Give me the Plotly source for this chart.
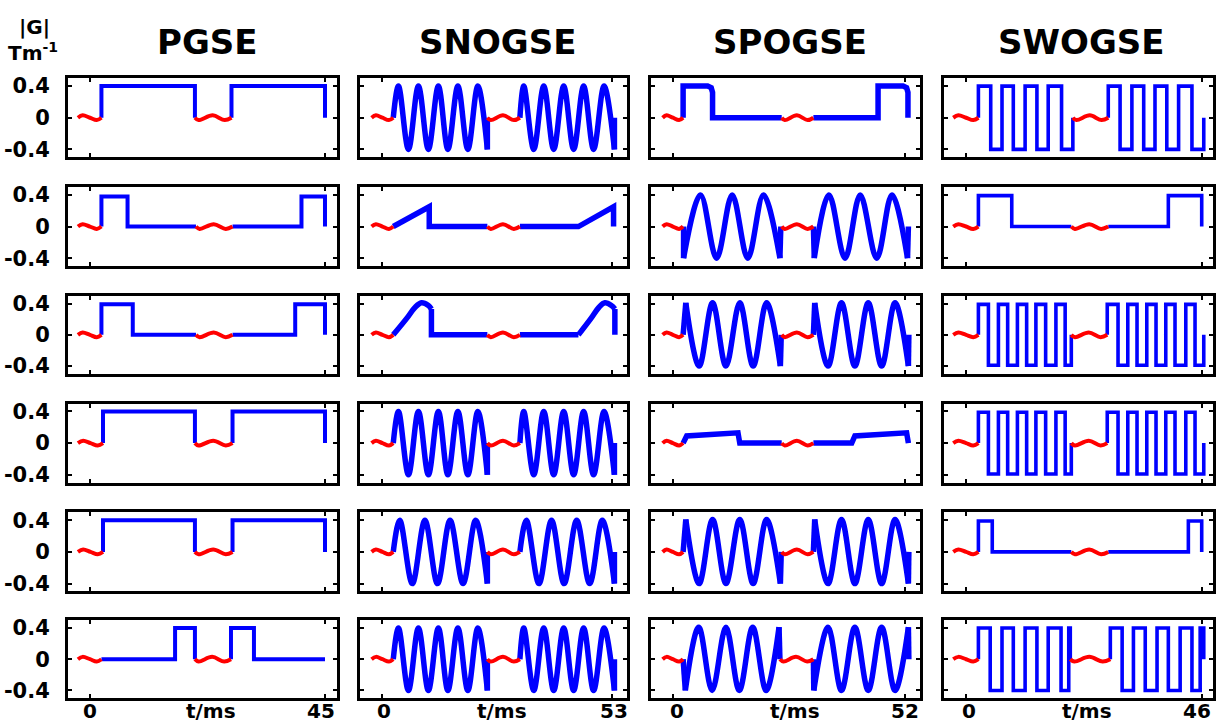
import plotly.graph_objects as go

# ---------------- data ----------------
SCHEMES = ["PGSE", "SNOGSE", "SPOGSE", "SWOGSE"]
T_MAX = [45, 53, 52, 46]                 # last t tick (ms) of each column
G_TICKS = [-0.4, 0, 0.4]
G_TICK_TEXT = ["-0.4", "0", "0.4"]

# red wiggle shapes (G values), start segment and middle segment
RED_START_G = [0, 0.03, 0, -0.03, 0]
RED_MID_G = [0, -0.03, 0.03, -0.03, 0]

# ---- PGSE ----
PGSE_RED0_T = [
    [-2.3, -1.4, 0.0, 1.3, 2.2], [-2.3, -1.4, 0.0, 1.3, 2.2], [-2.3, -1.4, 0.0, 1.3, 2.2],
    [-2.3, -1.3, 0.1, 1.5, 2.5], [-2.3, -1.3, 0.1, 1.5, 2.5], [-2.3, -1.4, 0.0, 1.3, 2.2],
]
PGSE_RED1_T = [
    [20.1, 20.8, 23.5, 25.8, 27.1], [20.3, 21.0, 23.7, 26.0, 27.3], [20.3, 21.0, 23.7, 26.0, 27.3],
    [20.1, 20.8, 23.6, 26.0, 27.3], [20.1, 20.8, 23.6, 26.0, 27.3], [20.1, 20.8, 23.4, 25.7, 27.0],
]
PGSE_LINE_T = [
    [2.2, 2.2, 20.1, 20.1, None, 27.1, 27.1, 45, 45],
    [2.2, 2.2, 7.2, 7.2, 20.3, None, 27.3, 40.5, 40.5, 45, 45],
    [2.2, 2.2, 8.2, 8.2, 20.3, None, 27.3, 39.3, 39.3, 45, 45],
    [2.5, 2.5, 20.1, 20.1, None, 27.3, 27.3, 45, 45],
    [2.5, 2.5, 20.1, 20.1, None, 27.3, 27.3, 45, 45],
    [2.2, 16.3, 16.3, 20.1, 20.1, None, 27.0, 27.0, 31.4, 31.4, 45],
]
PGSE_LINE_G = [
    [0, 0.4, 0.4, 0, None, 0, 0.4, 0.4, 0],
    [0, 0.38, 0.38, 0, 0, None, 0, 0, 0.38, 0.38, 0],
    [0, 0.39, 0.39, 0, 0, None, 0, 0, 0.39, 0.39, 0],
    [0, 0.4, 0.4, 0, None, 0, 0.4, 0.4, 0],
    [0, 0.4, 0.4, 0, None, 0, 0.4, 0.4, 0],
    [0, 0, 0.4, 0.4, 0, None, 0, 0.4, 0.4, 0, 0],
]
PGSE_WAVE_T = [[], [], [], [], [], []]
PGSE_WAVE_G = [[], [], [], [], [], []]

# ---- SNOGSE ----
SNOGSE_RED0_T = [[-2.4, -1.4, 0.1, 1.6, 2.6]] * 6
SNOGSE_RED1_T = [[24.3, 25.1, 27.9, 30.4, 31.8]] * 6
SNOGSE_LINE_T = [
    [24.3, 24.3, None, 53.6, 53.6],
    [2.6, 10.9, 10.9, 24.3, None, 31.8, 45.3, 53.4, 53.4],
    [11.4, 11.4, 24.3, None, 31.8, 45.3, None, 53.7, 53.7],
    [24.3, 24.3, None, 53.6, 53.6],
    [24.3, 24.3, None, 53.6, 53.6],
    [24.3, 24.3, None, 53.6, 53.6],
]
SNOGSE_LINE_G = [
    [-0.4, 0, None, -0.4, 0],
    [0, 0.25, 0, 0, None, 0, 0, 0.25, 0],
    [0.33, 0, 0, None, 0, 0, None, 0.33, 0],
    [-0.4, 0, None, -0.4, 0],
    [-0.4, 0, None, -0.4, 0],
    [-0.4, 0, None, -0.4, 0],
]
SNOGSE_WAVE_T = [
    [2.6, 3.8, 6.1, 8.4, 10.7, 13.0, 15.2, 17.5, 19.8, 22.1, 24.3, None,
     31.8, 32.7, 35.0, 37.3, 39.6, 41.9, 44.2, 46.5, 48.8, 51.2, 53.6],
    [],
    [2.6, 5.7, 7.6, 9.1, 10.7, 11.4, None, 45.3, 48.2, 50.0, 51.4, 52.9, 53.7],
    [2.6, 3.8, 6.1, 8.4, 10.7, 13.0, 15.2, 17.5, 19.8, 22.1, 24.3, None,
     31.8, 32.7, 35.0, 37.3, 39.6, 41.9, 44.2, 46.5, 48.8, 51.2, 53.6],
    [2.6, 4.1, 7.0, 9.9, 12.8, 15.7, 18.7, 21.6, 24.3, None,
     31.8, 33.3, 36.2, 39.1, 42.0, 44.9, 47.9, 50.8, 53.6],
    [2.6, 3.8, 6.1, 8.4, 10.7, 13.0, 15.2, 17.5, 19.8, 22.1, 24.3, None,
     31.8, 32.7, 35.0, 37.3, 39.6, 41.9, 44.2, 46.5, 48.8, 51.2, 53.6],
]
SNOGSE_WAVE_G = [
    [0, 0.4, -0.4, 0.4, -0.4, 0.4, -0.4, 0.4, -0.4, 0.4, -0.4, None,
     0, 0.4, -0.4, 0.4, -0.4, 0.4, -0.4, 0.4, -0.4, 0.4, -0.4],
    [],
    [0, 0.21, 0.35, 0.41, 0.375, 0.33, None, 0, 0.21, 0.35, 0.41, 0.375, 0.33],
    [0, 0.4, -0.4, 0.4, -0.4, 0.4, -0.4, 0.4, -0.4, 0.4, -0.4, None,
     0, 0.4, -0.4, 0.4, -0.4, 0.4, -0.4, 0.4, -0.4, 0.4, -0.4],
    [0, 0.4, -0.4, 0.4, -0.4, 0.4, -0.4, 0.4, -0.4, None,
     0, 0.4, -0.4, 0.4, -0.4, 0.4, -0.4, 0.4, -0.4],
    [0, 0.4, -0.4, 0.4, -0.4, 0.4, -0.4, 0.4, -0.4, 0.4, -0.4, None,
     0, 0.4, -0.4, 0.4, -0.4, 0.4, -0.4, 0.4, -0.4, 0.4, -0.4],
]

# ---- SPOGSE ----
SPOGSE_RED0_T = [[-2.3, -1.4, 0.0, 1.4, 2.3]] * 6
SPOGSE_RED1_T = [
    [24.4, 25.1, 27.8, 30.2, 31.5], [24.4, 25.1, 27.8, 30.2, 31.5], [24.4, 25.1, 27.8, 30.2, 31.5],
    [24.4, 25.1, 27.8, 30.2, 31.5], [24.4, 25.1, 27.8, 30.2, 31.5], [24.0, 24.8, 27.6, 30.1, 31.5],
]
SPOGSE_LINE_T = [
    [2.3, 2.3, 7.8, 8.6, 8.9, 8.9, 24.4, None, 31.5, 46.0, 46.0, 51.6, 52.4, 52.7, 52.7],
    [2.4, 2.4, None, 24.0, 24.2, None, 31.5, 31.7, None, 52.6, 52.8],
    [2.3, 2.9, None, 24.1, 24.3, None, 31.5, 31.8, None, 52.8, 52.9],
    [2.3, 3.1, 14.6, 15.0, 24.4, None, 31.5, 40.1, 40.8, 52.4, 52.8],
    [2.3, 2.9, None, 24.1, 24.3, None, 31.5, 31.8, None, 52.8, 52.9],
    [2.3, 2.8, None, 23.8, 24.0, None, 31.5, 31.6, None, 52.8, 52.9],
]
SPOGSE_LINE_G = [
    [0, 0.4, 0.4, 0.38, 0.32, 0, 0, None, 0, 0, 0.4, 0.4, 0.38, 0.32, 0],
    [0, -0.4, None, -0.4, 0, None, 0, -0.4, None, -0.4, 0],
    [0, 0.41, None, -0.4, 0, None, 0, 0.41, None, -0.4, 0],
    [0, 0.09, 0.13, 0, 0, None, 0, 0, 0.09, 0.13, 0],
    [0, 0.41, None, -0.4, 0, None, 0, 0.41, None, -0.4, 0],
    [0, -0.4, None, 0.41, 0, None, 0, -0.4, None, 0.41, 0],
]
SPOGSE_WAVE_T = [
    [],
    [2.4, 6.2, 9.8, 13.3, 16.8, 20.3, 24.0, None, 31.7, 35.0, 38.6, 42.0, 45.7, 49.1, 52.6],
    [2.9, 5.9, 8.9, 11.9, 15.0, 18.0, 21.0, 24.1, None, 31.8, 34.8, 37.8, 40.8, 43.8, 46.8, 49.8, 52.8],
    [],
    [2.9, 5.9, 8.9, 11.9, 15.0, 18.0, 21.0, 24.1, None, 31.8, 34.8, 37.8, 40.8, 43.8, 46.8, 49.8, 52.8],
    [2.8, 5.8, 8.8, 11.9, 14.9, 17.9, 20.9, 23.8, None, 31.6, 34.8, 37.8, 40.8, 43.8, 46.8, 49.8, 52.8],
]
SPOGSE_WAVE_G = [
    [],
    [-0.4, 0.4, -0.4, 0.4, -0.4, 0.4, -0.4, None, -0.4, 0.4, -0.4, 0.4, -0.4, 0.4, -0.4],
    [0.41, -0.4, 0.41, -0.4, 0.41, -0.4, 0.41, -0.4, None, 0.41, -0.4, 0.41, -0.4, 0.41, -0.4, 0.41, -0.4],
    [],
    [0.41, -0.4, 0.41, -0.4, 0.41, -0.4, 0.41, -0.4, None, 0.41, -0.4, 0.41, -0.4, 0.41, -0.4, 0.41, -0.4],
    [-0.4, 0.41, -0.4, 0.41, -0.4, 0.41, -0.4, 0.41, None, -0.4, 0.41, -0.4, 0.41, -0.4, 0.41, -0.4, 0.41],
]

# ---- SWOGSE ----
SWOGSE_RED0_T = [[-2.5, -1.5, 0.0, 1.4, 2.4]] * 6
SWOGSE_RED1_T = [
    [20.8, 21.5, 24.1, 26.4, 27.7], [20.5, 21.2, 24.0, 26.3, 27.7], [20.5, 21.2, 23.9, 26.2, 27.5],
    [20.5, 21.2, 23.9, 26.2, 27.5], [20.5, 21.2, 24.0, 26.3, 27.7], [20.3, 21.1, 24.0, 26.6, 28.1],
]
SWOGSE_LINE_T = [
    [2.4, 2.4, 4.8, 4.8, 7.0, 7.0, 9.2, 9.2, 11.5, 11.5, 13.8, 13.8, 16.0, 16.0, 18.6, 18.6, 20.8, 20.8, None,
     27.7, 27.7, 30.0, 30.0, 32.3, 32.3, 34.6, 34.6, 36.8, 36.8, 39.1, 39.1, 41.4, 41.4, 44.0, 44.0, 46.3, 46.3],
    [2.4, 2.4, 8.9, 8.9, 20.5, None, 27.7, 39.4, 39.4, 45.9, 45.9],
    [2.4, 2.4, 4.35, 4.35, 6.3, 6.3, 8.1, 8.1, 10.0, 10.0, 11.8, 11.8, 13.6, 13.6, 15.5, 15.5, 17.5, 17.5,
     19.3, 19.3, 20.5, 20.5, None,
     27.5, 27.5, 29.6, 29.6, 31.5, 31.5, 33.3, 33.3, 35.2, 35.2, 37.0, 37.0, 38.9, 38.9, 40.7, 40.7,
     42.8, 42.8, 44.6, 44.6, 46.3, 46.3],
    [2.4, 2.4, 4.35, 4.35, 6.3, 6.3, 8.1, 8.1, 10.0, 10.0, 11.8, 11.8, 13.6, 13.6, 15.5, 15.5, 17.5, 17.5,
     19.3, 19.3, 20.5, 20.5, None,
     27.5, 27.5, 29.6, 29.6, 31.5, 31.5, 33.3, 33.3, 35.2, 35.2, 37.0, 37.0, 38.9, 38.9, 40.7, 40.7,
     42.8, 42.8, 44.6, 44.6, 46.3, 46.3],
    [2.4, 2.4, 5.1, 5.1, 20.5, None, 27.7, 43.3, 43.3, 45.9, 45.9],
    [2.4, 2.4, 4.7, 4.7, 7.0, 7.0, 9.2, 9.2, 11.5, 11.5, 13.8, 13.8, 16.0, 16.0, 18.5, 18.5, 20.0, 20.0,
     20.3, 20.3, None,
     28.1, 28.1, 30.4, 30.4, 32.6, 32.6, 34.9, 34.9, 37.2, 37.2, 39.4, 39.4, 41.7, 41.7, 44.0, 44.0,
     45.6, 45.6, 46.3, 46.3],
]
SWOGSE_LINE_G = [
    [0, 0.4, 0.4, -0.4, -0.4, 0.4, 0.4, -0.4, -0.4, 0.4, 0.4, -0.4, -0.4, 0.4, 0.4, -0.4, -0.4, 0, None,
     0, 0.4, 0.4, -0.4, -0.4, 0.4, 0.4, -0.4, -0.4, 0.4, 0.4, -0.4, -0.4, 0.4, 0.4, -0.4, -0.4, 0],
    [0, 0.39, 0.39, 0, 0, None, 0, 0, 0.39, 0.39, 0],
    [0, 0.39, 0.39, -0.39, -0.39, 0.39, 0.39, -0.39, -0.39, 0.39, 0.39, -0.39, -0.39, 0.39, 0.39,
     -0.39, -0.39, 0.39, 0.39, -0.39, -0.39, 0, None,
     0, 0.39, 0.39, -0.39, -0.39, 0.39, 0.39, -0.39, -0.39, 0.39, 0.39, -0.39, -0.39, 0.39, 0.39,
     -0.39, -0.39, 0.39, 0.39, -0.39, -0.39, 0],
    [0, 0.39, 0.39, -0.39, -0.39, 0.39, 0.39, -0.39, -0.39, 0.39, 0.39, -0.39, -0.39, 0.39, 0.39,
     -0.39, -0.39, 0.39, 0.39, -0.39, -0.39, 0, None,
     0, 0.39, 0.39, -0.39, -0.39, 0.39, 0.39, -0.39, -0.39, 0.39, 0.39, -0.39, -0.39, 0.39, 0.39,
     -0.39, -0.39, 0.39, 0.39, -0.39, -0.39, 0],
    [0, 0.39, 0.39, 0, 0, None, 0, 0, 0.39, 0.39, 0],
    [0, 0.4, 0.4, -0.4, -0.4, 0.4, 0.4, -0.4, -0.4, 0.4, 0.4, -0.4, -0.4, 0.4, 0.4, -0.4, -0.4, 0.4, 0.4, 0,
     None,
     0, 0.4, 0.4, -0.4, -0.4, 0.4, 0.4, -0.4, -0.4, 0.4, 0.4, -0.4, -0.4, 0.4, 0.4, -0.4, -0.4, 0.4, 0.4, 0],
]
SWOGSE_WAVE_T = [[], [], [], [], [], []]
SWOGSE_WAVE_G = [[], [], [], [], [], []]

COLUMNS = [
    (PGSE_LINE_T, PGSE_LINE_G, PGSE_WAVE_T, PGSE_WAVE_G, PGSE_RED0_T, PGSE_RED1_T),
    (SNOGSE_LINE_T, SNOGSE_LINE_G, SNOGSE_WAVE_T, SNOGSE_WAVE_G, SNOGSE_RED0_T, SNOGSE_RED1_T),
    (SPOGSE_LINE_T, SPOGSE_LINE_G, SPOGSE_WAVE_T, SPOGSE_WAVE_G, SPOGSE_RED0_T, SPOGSE_RED1_T),
    (SWOGSE_LINE_T, SWOGSE_LINE_G, SWOGSE_WAVE_T, SWOGSE_WAVE_G, SWOGSE_RED0_T, SWOGSE_RED1_T),
]

# ---------------- layout (pixels) ----------------
W, H = 1223, 728
COL_PX = [(68, 337), (360, 627), (651, 920), (944, 1213)]
ROW_PX = [(75, 155), (185, 265), (295, 374), (404, 484), (514, 594), (623, 702)]
X_RANGE = [(-4.2, 47.3), (-5.07, 56.5), (-4.9, 55.4), (-4.3, 48.1)]
BLUE_W = [4, 5.5, 5.5, 3.6]
FONT = "DejaVu Sans"
X_LABEL_Y = 715
ZERO_LABEL_X = [90, 384, 677, 969]
END_LABEL_X = [321, 614, 905, 1197]
TMS_X = [211, 502, 795, 1087]
TITLE_X = [207, 497, 790, 1081]

fig = go.Figure()
layout = dict(
    width=W, height=H, margin=dict(l=0, r=0, t=0, b=0),
    paper_bgcolor="white", plot_bgcolor="white", showlegend=False,
)
annotations = []


def label(text, px, py, size):
    return dict(text=text, x=px / W, y=1 - py / H, xref="paper", yref="paper",
                showarrow=False, xanchor="center", yanchor="middle", borderpad=0,
                font=dict(family=FONT, size=size, color="black", weight="bold"))


for r in range(6):
    for c in range(4):
        k = r * 4 + c + 1
        xa = "x" if k == 1 else f"x{k}"
        ya = "y" if k == 1 else f"y{k}"
        lt, lg, wt, wg, r0, r1 = COLUMNS[c]
        if lt[r]:
            fig.add_trace(go.Scatter(x=lt[r], y=lg[r], mode="lines", xaxis=xa, yaxis=ya,
                                     line=dict(color="#0000FF", width=BLUE_W[c]),
                                     connectgaps=False, hoverinfo="skip"))
        if wt[r]:
            fig.add_trace(go.Scatter(x=wt[r], y=wg[r], mode="lines", xaxis=xa, yaxis=ya,
                                     line=dict(color="#0000FF", width=BLUE_W[c], shape="spline",
                                               smoothing=1.0),
                                     connectgaps=False, hoverinfo="skip"))
        fig.add_trace(go.Scatter(x=r0[r] + [None] + r1[r], y=RED_START_G + [None] + RED_MID_G,
                                 mode="lines", xaxis=xa, yaxis=ya,
                                 line=dict(color="#FF0000", width=4, shape="spline", smoothing=1.0),
                                 connectgaps=False, hoverinfo="skip"))

        x0, x1 = COL_PX[c]
        y0, y1 = ROW_PX[r]
        xkey = "xaxis" if k == 1 else f"xaxis{k}"
        ykey = "yaxis" if k == 1 else f"yaxis{k}"
        layout[xkey] = dict(
            domain=[x0 / W, x1 / W], range=list(X_RANGE[c]), anchor=ya,
            showline=True, linewidth=3, linecolor="black", mirror="ticks",
            ticks="inside", ticklen=4, tickwidth=2, tickcolor="black",
            tickmode="array", tickvals=[0, T_MAX[c]],
            showticklabels=False,
            showgrid=False, zeroline=False, fixedrange=True,
        )
        layout[ykey] = dict(
            domain=[1 - y1 / H, 1 - y0 / H], range=[-0.5, 0.5], anchor=xa,
            showline=True, linewidth=3, linecolor="black", mirror="ticks",
            ticks="inside", ticklen=4, tickwidth=2, tickcolor="black",
            tickmode="array", tickvals=G_TICKS, ticktext=G_TICK_TEXT,
            showticklabels=(c == 0), ticklabelstandoff=11,
            tickfont=dict(family=FONT, size=21, color="black", weight="bold"),
            showgrid=False, zeroline=False, fixedrange=True,
        )

for c, name in enumerate(SCHEMES):
    annotations.append(label(name, TITLE_X[c], 38, 34))
    annotations.append(label("0", ZERO_LABEL_X[c], X_LABEL_Y, 20))
    annotations.append(label(str(T_MAX[c]), END_LABEL_X[c], X_LABEL_Y, 20))
    annotations.append(label("t/ms", TMS_X[c], X_LABEL_Y, 20))
annotations.append(label("|G|", 34, 23, 20))
annotations.append(label("Tm<sup>-1</sup>", 33, 49, 20))
layout["annotations"] = annotations

fig.update_layout(**layout)
fig.write_html("out.html", config={"displayModeBar": False},
               post_script="document.body.style.margin='0px';document.body.style.overflow='hidden';")
